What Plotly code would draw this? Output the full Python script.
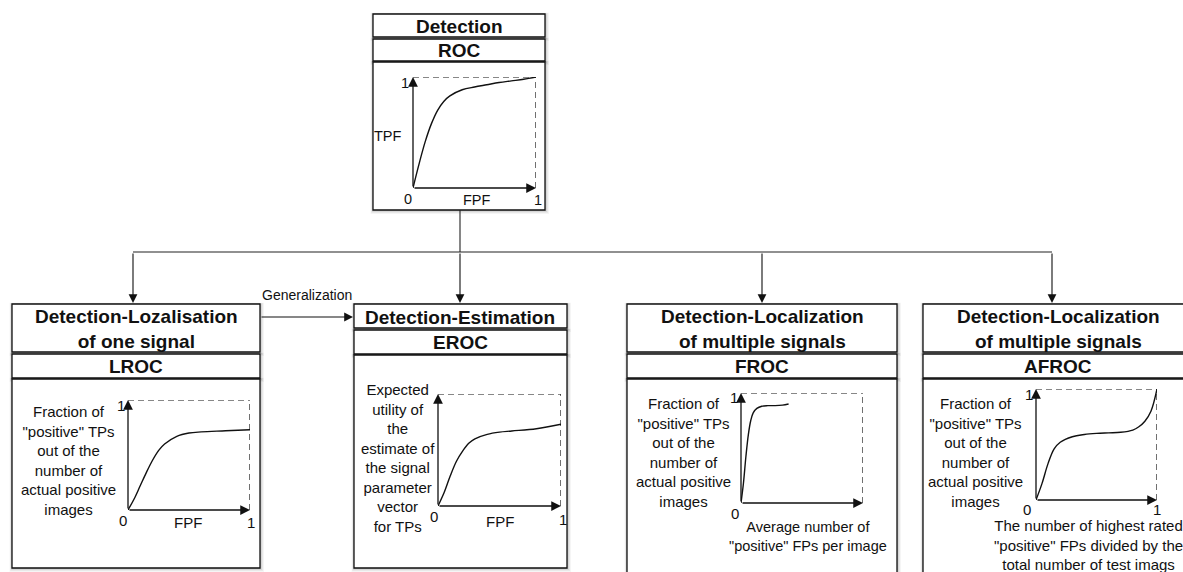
import plotly.graph_objects as go

W, H = 1183, 572
FONT = "Liberation Sans, Arial, sans-serif"

# ---------------- data (normalised curves) ----------------
roc_x = [0, 0.05, 0.1, 0.15, 0.2, 0.25, 0.3, 0.4, 0.5, 0.6, 0.7, 0.8, 0.9, 1.0]
roc_y = [0, 0.22, 0.42, 0.58, 0.7, 0.78, 0.83, 0.885, 0.91, 0.93, 0.95, 0.965, 0.98, 1.0]

lroc_x = [0, 0.05, 0.1, 0.15, 0.2, 0.25, 0.3, 0.4, 0.5, 0.6, 0.8, 1.0]
lroc_y = [0, 0.1, 0.22, 0.34, 0.45, 0.54, 0.6, 0.67, 0.7, 0.71, 0.72, 0.73]

eroc_x = [0, 0.05, 0.1, 0.15, 0.2, 0.25, 0.3, 0.4, 0.5, 0.6, 0.8, 1.0]
eroc_y = [0, 0.12, 0.27, 0.4, 0.49, 0.56, 0.6, 0.64, 0.66, 0.67, 0.69, 0.73]

froc_x = [0, 0.02, 0.04, 0.06, 0.08, 0.1, 0.13, 0.17, 0.22, 0.28, 0.34, 0.39]
froc_y = [0, 0.18, 0.42, 0.62, 0.75, 0.82, 0.86, 0.88, 0.885, 0.885, 0.89, 0.9]

afroc_x = [0, 0.05, 0.1, 0.15, 0.2, 0.3, 0.4, 0.5, 0.6, 0.7, 0.8, 0.85, 0.9, 0.95, 1.0]
afroc_y = [0, 0.15, 0.33, 0.46, 0.52, 0.57, 0.59, 0.6, 0.605, 0.61, 0.63, 0.66, 0.71, 0.8, 1.0]

titles = ["Detection", "Detection-Lozalisation<br>of one signal", "Detection-Estimation",
          "Detection-Localization<br>of multiple signals", "Detection-Localization<br>of multiple signals"]
methods = ["ROC", "LROC", "EROC", "FROC", "AFROC"]
ylabels = ["TPF",
           "Fraction of<br>\"positive\" TPs<br>out of the<br>number of<br>actual positive<br>images",
           "Expected<br>utility of<br>the<br>estimate of<br>the signal<br>parameter<br>vector<br>for TPs",
           "Fraction of<br>\"positive\" TPs<br>out of the<br>number of<br>actual positive<br>images",
           "Fraction of<br>\"positive\" TPs<br>out of the<br>number of<br>actual positive<br>images"]
xlabels = ["FPF", "FPF", "FPF",
           "Average number of<br>\"positive\" FPs per image",
           "The number of highest rated<br>\"positive\" FPs divided by the<br>total number of test imags"]
edge_label = "Generalization"

curves = [(roc_x, roc_y), (lroc_x, lroc_y), (eroc_x, eroc_y), (froc_x, froc_y), (afroc_x, afroc_y)]

# ---------------- layout geometry (pixels) ----------------
boxes = [
    [(373, 14, 545, 37), (373, 39, 545, 61), (373, 62, 545, 210)],
    [(12, 304, 260, 352), (12, 354, 260, 378), (12, 379, 260, 568)],
    [(354, 304, 567, 328), (354, 330, 567, 354), (354, 355, 567, 568)],
    [(627, 304, 897, 352), (627, 354, 897, 378), (627, 379, 897, 590)],
    [(923, 304, 1200, 352), (923, 354, 1200, 378), (923, 379, 1200, 590)],
]
title_pos = [(459, 26), (136, 329), (460, 317), (762, 329), (1058, 329)]
method_pos = [(459, 50), (136, 366), (460, 342), (762, 366), (1058, 366)]
frames = [(413, 536, 188, 77), (128, 250, 510, 400), (438, 561, 506, 394),
          (741, 863, 503, 393), (1036, 1157, 500, 389)]
ylab_pos = [(388, 136, 14.5), (68, 460, 15), (398, 458, 15), (683, 452, 15), (975, 452, 15)]
xlab_pos = [(477, 200, 14.5), (188, 522, 15), (500, 521, 15), (808, 536, 14.5), (1088, 545, 15)]

fig = go.Figure()
fig.add_trace(go.Scatter(x=[0, W], y=[0, H], mode="markers", marker=dict(opacity=0),
                         hoverinfo="skip", showlegend=False, xaxis="x", yaxis="y"))

shapes = []
annotations = []

def txt(x, y, s, size=15, bold=False, xanchor="center", yanchor="middle", ref=("x", "y")):
    annotations.append(dict(x=x, y=y, xref=ref[0], yref=ref[1], text=("<b>%s</b>" % s) if bold else s,
                            showarrow=False, xanchor=xanchor, yanchor=yanchor,
                            font=dict(family=FONT, size=size, color="#111")))

def arrow(x0, y0, x1, y1, ref=("x", "y"), width=1.1, size=1.6):
    annotations.append(dict(x=x1, y=y1, ax=x0, ay=y0, xref=ref[0], yref=ref[1],
                            axref=ref[0], ayref=ref[1], text="", showarrow=True,
                            arrowhead=2, arrowsize=size, arrowwidth=width, arrowcolor="#111",
                            standoff=0, startstandoff=0))

for rows in boxes:
    for (x0, y0, x1, y1) in rows:
        for k, op in [(4, 0.04), (3, 0.05), (2, 0.07), (1, 0.10)]:
            shapes.append(dict(type="rect", xref="x", yref="y", x0=x0 - k * 0.6, x1=x1 + k,
                               y0=y0 - k * 0.3, y1=y1 + k, line=dict(width=0),
                               fillcolor="rgba(0,0,0,%g)" % op, layer="below"))
for rows in boxes:
    for (x0, y0, x1, y1) in rows:
        shapes.append(dict(type="rect", xref="x", yref="y", x0=x0, x1=x1, y0=y0, y1=y1,
                           line=dict(color="#111", width=1.3), fillcolor="white", layer="below"))

shapes.append(dict(type="line", xref="x", yref="y", x0=460, x1=460, y0=210, y1=252,
                   line=dict(color="#222", width=1.1)))
shapes.append(dict(type="line", xref="x", yref="y", x0=133, x1=1052, y0=252, y1=252,
                   line=dict(color="#222", width=1.1)))
for xx in [133, 460, 762, 1052]:
    arrow(xx, 252, xx, 303)
arrow(260, 317, 353, 317)
txt(307, 295, edge_label, size=14)

for i in range(5):
    txt(title_pos[i][0], title_pos[i][1], titles[i], size=19, bold=True)
    txt(method_pos[i][0], method_pos[i][1], methods[i], size=19, bold=True)

for i, (fx0, fx1, fyb, fyt) in enumerate(frames):
    n = i + 2
    xa, ya = "x%d" % n, "y%d" % n
    fig.update_layout(**{
        "xaxis%d" % n: dict(domain=[fx0 / W, fx1 / W], range=[0, 1], visible=False,
                            anchor=ya, fixedrange=True),
        "yaxis%d" % n: dict(domain=[1 - fyb / H, 1 - fyt / H], range=[0, 1], visible=False,
                            anchor=xa, fixedrange=True),
    })
    cx, cy = curves[i]
    fig.add_trace(go.Scatter(x=cx, y=cy, mode="lines", line=dict(color="#111", width=1.4, shape="spline"),
                             hoverinfo="skip", showlegend=False, xaxis=xa, yaxis=ya))
    shapes.append(dict(type="line", xref=xa, yref=ya, x0=0, x1=1, y0=1, y1=1,
                       line=dict(color="#111", width=1.2, dash="6px,4px")))
    shapes.append(dict(type="line", xref=xa, yref=ya, x0=1, x1=1, y0=0, y1=1,
                       line=dict(color="#111", width=1.2, dash="6px,4px")))
    arrow(0, 0, 1, 0, ref=(xa, ya), width=1.3, size=1.5)
    arrow(0, 0, 0, 1, ref=(xa, ya), width=1.3, size=1.5)

lab_size = [14.5, 15, 15, 15, 15]
ones_top = [(405, 83), (121, 405), None, (734, 397), (1029, 394)]
zeros = [(408, 199), (123, 520), (434, 516), (735, 513), (1027, 509)]
ones_right = [(538, 200), (251, 522), (563, 519), None, (1157, 509)]
for i in range(5):
    if ones_top[i]:
        txt(*ones_top[i], "1", size=lab_size[i])
    txt(*zeros[i], "0", size=lab_size[i])
    if ones_right[i]:
        txt(*ones_right[i], "1", size=lab_size[i])
    txt(ylab_pos[i][0], ylab_pos[i][1], ylabels[i], size=ylab_pos[i][2])
    txt(xlab_pos[i][0], xlab_pos[i][1], xlabels[i], size=xlab_pos[i][2])

fig.update_layout(
    width=W, height=H, margin=dict(l=0, r=0, t=0, b=0),
    paper_bgcolor="white", plot_bgcolor="white", showlegend=False,
    xaxis=dict(domain=[0, 1], range=[0, W], visible=False, fixedrange=True),
    yaxis=dict(domain=[0, 1], range=[H, 0], visible=False, fixedrange=True),
    shapes=shapes, annotations=annotations,
)

fig.write_html("out.html", config={"displayModeBar": False},
               post_script="document.body.style.margin='0';document.body.style.overflow='hidden';")
